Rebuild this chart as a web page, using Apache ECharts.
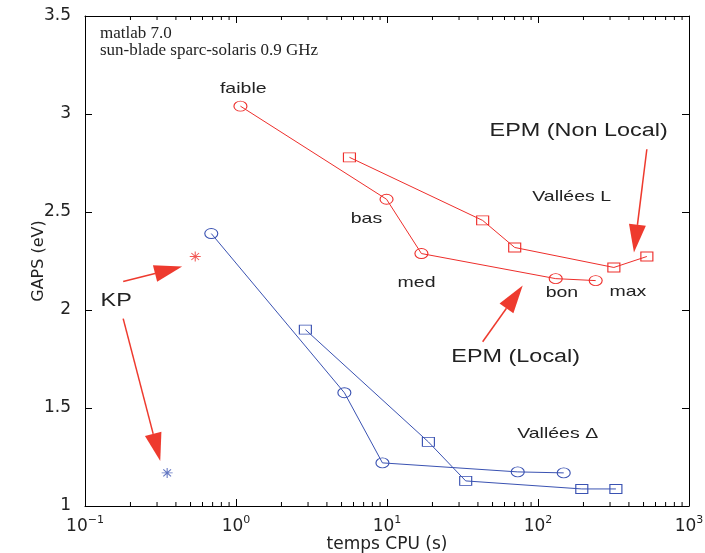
<!DOCTYPE html>
<html>
<head>
<meta charset="utf-8">
<script src="https://cdn.jsdelivr.net/npm/echarts@6/dist/echarts.min.js"></script>
<style>html,body{margin:0;padding:0;background:#fff}#c{width:705px;height:553px}</style>
</head>
<body>
<div id="c"></div>
<script>
// ---- data ----
const redCircleX = [1.07, 9.93, 16.9, 131, 241];
const redCircleY = [3.04, 2.565, 2.288, 2.16, 2.15];
const redSquareX = [5.64, 43.0, 70.1, 318, 526];
const redSquareY = [2.779, 2.457, 2.319, 2.217, 2.273];
const blueCircleX = [0.686, 5.22, 9.33, 73.4, 148];
const blueCircleY = [2.39, 1.578, 1.22, 1.174, 1.169];
const blueSquareX = [2.88, 18.8, 33.2, 195, 328];
const blueSquareY = [1.90, 1.327, 1.128, 1.087, 1.087];
const kpRed = [0.537, 2.273];
const kpBlue = [0.35, 1.169];

const annoText = ['faible', 'bas', 'med', 'bon', 'max', 'Vallées L', 'Vallées Δ', 'KP', 'EPM (Non Local)', 'EPM (Local)'];
const annoX = [1.117, 7.31, 15.7, 144, 394, 167, 135, 0.161, 186, 71.2];
const annoY = [3.127, 2.467, 2.14, 2.089, 2.094, 2.575, 1.368, 2.048, 2.912, 1.762];
const annoSize = [15, 15, 15, 15, 15, 15, 15, 18, 18, 18];

// arrows: [x0, y0, x1(tip), y1(tip)]
const arrows = [
  [0.179, 2.145, 0.44, 2.222],
  [0.179, 1.956, 0.315, 1.23],
  [526, 2.82, 432, 2.293],
  [43, 1.838, 79.2, 2.125]
];

const yTicks = [1, 1.5, 2, 2.5, 3, 3.5];
const xMin = 0.1, xMax = 1000;
const minorTicks = [];
for (let k = -1; k <= 2; k++) for (let m = 2; m <= 9; m++) minorTicks.push(+(m * Math.pow(10, k)).toPrecision(3));

const RED = '#ee2e2b';
const BLUE = '#3a52b2';
const ARROW = '#ee3a2e';
const TXT = '#222';

function pairs(xs, ys) { return xs.map((x, i) => [x, ys[i]]); }

const chart = echarts.init(document.getElementById('c'), null, { renderer: 'canvas' });

const axisCommon = {
  axisLine: { show: true, onZero: false, lineStyle: { color: '#000', width: 1 } },
  axisTick: { show: true, inside: true, length: 7, lineStyle: { color: '#000' } },
  splitLine: { show: false }
};

const option = {
  animation: false,
  backgroundColor: '#fff',
  title: {
    text: 'matlab 7.0\nsun-blade sparc-solaris 0.9 GHz',
    left: 95, top: 20,
    textStyle: { fontFamily: 'Liberation Serif', fontSize: 17, fontWeight: 'normal', color: TXT, lineHeight: 17 }
  },
  grid: { left: 85, right: 16, top: 16, bottom: 47, outerBoundsMode: 'none', containLabel: false },
  xAxis: [
    Object.assign({
      type: 'log', logBase: 10, min: xMin, max: xMax, position: 'bottom',
      name: 'temps CPU (s)', nameLocation: 'middle', nameGap: 30, nameMoveOverlap: false,
      nameTextStyle: { fontFamily: 'DejaVu Sans', fontSize: 17, color: TXT },
      axisLabel: {
        margin: 9, color: TXT,
        formatter: function (v) {
          const e = Math.round(Math.log10(v));
          return '{b|10}{s|' + (e < 0 ? '\u2212' + (-e) : e) + '}';
        },
        rich: {
          b: { fontFamily: 'DejaVu Sans', fontSize: 17, color: TXT },
          s: { fontFamily: 'DejaVu Sans', fontSize: 11, color: TXT, padding: [0, 0, 12, 0] }
        }
      }
    }, axisCommon),
    Object.assign({
      type: 'log', logBase: 10, min: xMin, max: xMax, position: 'top',
      axisLabel: { show: false }
    }, axisCommon)
  ],
  yAxis: [
    Object.assign({
      type: 'value', min: 1, max: 3.5, interval: 0.5, position: 'left',
      name: 'GAPS (eV)', nameLocation: 'middle', nameGap: 38, nameMoveOverlap: false,
      nameTextStyle: { fontFamily: 'DejaVu Sans', fontSize: 16, color: TXT },
      axisLabel: { margin: 14, color: TXT, fontFamily: 'DejaVu Sans', fontSize: 17 }
    }, axisCommon),
    Object.assign({
      type: 'value', min: 1, max: 3.5, interval: 0.5, position: 'right',
      axisLabel: { show: false }
    }, axisCommon)
  ],
  series: [
    {
      type: 'custom', name: 'minorTicks', silent: true,
      data: minorTicks.map(v => [v, 1]),
      encode: { x: 0, y: 1 },
      renderItem: function (params, api) {
        const v = api.value(0);
        const b = api.coord([v, 1]);
        const t = api.coord([v, 3.5]);
        return {
          type: 'group', children: [
            { type: 'line', shape: { x1: b[0], y1: b[1], x2: b[0], y2: b[1] - 4 }, style: { stroke: '#000', lineWidth: 1 } },
            { type: 'line', shape: { x1: t[0], y1: t[1], x2: t[0], y2: t[1] + 4 }, style: { stroke: '#000', lineWidth: 1 } }
          ]
        };
      }
    },
    {
      type: 'line', name: 'redCircle', data: pairs(redCircleX, redCircleY),
      symbol: 'circle', symbolSize: [13, 10], showAllSymbol: true,
      lineStyle: { color: RED, width: 1 },
      itemStyle: { color: 'rgba(0,0,0,0)', borderColor: RED, borderWidth: 1 }
    },
    {
      type: 'line', name: 'redSquare', data: pairs(redSquareX, redSquareY),
      symbol: 'rect', symbolSize: [12, 9], showAllSymbol: true,
      lineStyle: { color: RED, width: 1 },
      itemStyle: { color: 'rgba(0,0,0,0)', borderColor: RED, borderWidth: 1 }
    },
    {
      type: 'line', name: 'blueCircle', data: pairs(blueCircleX, blueCircleY),
      symbol: 'circle', symbolSize: [13, 10], showAllSymbol: true,
      lineStyle: { color: BLUE, width: 1 },
      itemStyle: { color: 'rgba(0,0,0,0)', borderColor: BLUE, borderWidth: 1 }
    },
    {
      type: 'line', name: 'blueSquare', data: pairs(blueSquareX, blueSquareY),
      symbol: 'rect', symbolSize: [12, 9], showAllSymbol: true,
      lineStyle: { color: BLUE, width: 1 },
      itemStyle: { color: 'rgba(0,0,0,0)', borderColor: BLUE, borderWidth: 1 }
    },
    {
      type: 'scatter', name: 'kp',
      data: [
        { value: kpRed, itemStyle: { borderColor: RED } },
        { value: kpBlue, itemStyle: { borderColor: BLUE } }
      ],
      symbol: 'path://M5,0L5,10M0,5L10,5M1.5,1.5L8.5,8.5M1.5,8.5L8.5,1.5',
      symbolSize: [11, 10],
      itemStyle: { color: 'rgba(0,0,0,0)', borderWidth: 1 }
    },
    {
      type: 'custom', name: 'arrows', silent: true, z: 5,
      data: arrows,
      encode: { x: [0, 2], y: [1, 3] },
      renderItem: function (params, api) {
        const p0 = api.coord([api.value(0), api.value(1)]);
        const p1 = api.coord([api.value(2), api.value(3)]);
        const dx = p1[0] - p0[0], dy = p1[1] - p0[1];
        const len = Math.sqrt(dx * dx + dy * dy);
        const ux = dx / len, uy = dy / len;
        const L = 28, W = 17;
        const bx = p1[0] - ux * L, by = p1[1] - uy * L;
        const nx = -uy * W / 2, ny = ux * W / 2;
        return {
          type: 'group', children: [
            { type: 'line', shape: { x1: p0[0], y1: p0[1], x2: bx, y2: by }, style: { stroke: ARROW, lineWidth: 1.5 } },
            { type: 'polygon', shape: { points: [[p1[0], p1[1]], [bx + nx, by + ny], [bx - nx, by - ny]] }, style: { fill: ARROW } }
          ]
        };
      }
    },
    {
      type: 'custom', name: 'texts', silent: true, z: 6,
      data: annoX.map((x, i) => [x, annoY[i]]),
      encode: { x: 0, y: 1 },
      renderItem: function (params, api) {
        const i = params.dataIndex;
        const p = api.coord([api.value(0), api.value(1)]);
        return {
          type: 'text', x: p[0], y: p[1], scaleX: 1.3,
          style: {
            text: annoText[i], x: 0, y: 0, align: 'center', verticalAlign: 'middle',
            fontFamily: 'Liberation Sans', fontSize: annoSize[i], fill: TXT
          }
        };
      }
    }
  ]
};
chart.setOption(option);
</script>
</body>
</html>
